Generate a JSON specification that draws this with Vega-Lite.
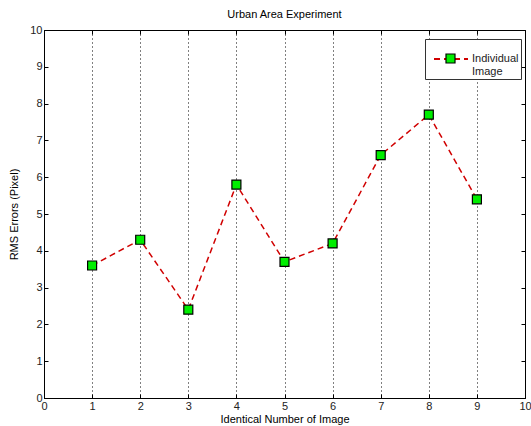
{
  "$schema": "https://vega.github.io/schema/vega-lite/v6.json",
  "width": 481,
  "height": 368,
  "autosize": {"type": "none"},
  "padding": {"left": 44, "top": 30, "right": 6, "bottom": 28},
  "background": "white",
  "title": {"text": "Urban Area Experiment", "font": "Liberation Sans", "fontSize": 11, "fontWeight": "normal", "color": "#000", "offset": 4},
  "config": {
    "view": {"stroke": "black", "strokeWidth": 1},
    "axis": {"labelFont": "Liberation Sans", "titleFont": "Liberation Sans", "labelFontSize": 11, "titleFontSize": 11, "titleFontWeight": "normal", "labelColor": "#222", "titleColor": "#000", "domainColor": "black", "tickColor": "black", "tickSize": -4}
  },
  "data": {"values": [
    {"x": 1, "y": 3.6, "series": "Individual Image", "marker": "m"},
    {"x": 2, "y": 4.3, "series": "Individual Image", "marker": "m"},
    {"x": 3, "y": 2.4, "series": "Individual Image", "marker": "m"},
    {"x": 4, "y": 5.8, "series": "Individual Image", "marker": "m"},
    {"x": 5, "y": 3.7, "series": "Individual Image", "marker": "m"},
    {"x": 6, "y": 4.2, "series": "Individual Image", "marker": "m"},
    {"x": 7, "y": 6.6, "series": "Individual Image", "marker": "m"},
    {"x": 8, "y": 7.7, "series": "Individual Image", "marker": "m"},
    {"x": 9, "y": 5.4, "series": "Individual Image", "marker": "m"}
  ]},
  "resolve": {"axis": {"x": "independent", "y": "independent"}, "legend": {"stroke": "independent", "fill": "independent"}},
  "layer": [
    {
      "mark": {"type": "line", "strokeDash": [6, 4], "strokeWidth": 1.5},
      "encoding": {
        "x": {"field": "x", "type": "quantitative", "scale": {"domain": [0, 10], "nice": false}, "axis": {"title": "Identical Number of Image", "values": [0,1,2,3,4,5,6,7,8,9,10], "grid": true, "gridColor": "black", "gridDash": [1, 3], "gridOpacity": 1, "labelPadding": 6, "titleY": 15, "titleBaseline": "top", "labelFlush": false}},
        "y": {"field": "y", "type": "quantitative", "scale": {"domain": [0, 10], "nice": false}, "axis": {"title": "RMS Errors (Pixel)", "values": [0,1,2,3,4,5,6,7,8,9,10], "grid": false, "labelPadding": 6, "titleX": -30, "titleBaseline": "middle", "labelFlush": false}},
        "stroke": {"field": "series", "type": "nominal", "scale": {"range": ["#d00000"]}, "legend": {"orient": "none", "legendX": 381, "legendY": 9, "title": null, "strokeColor": "#333", "fillColor": "white", "padding": 2, "symbolOffset": 6, "symbolType": "stroke", "symbolSize": 1156, "symbolStrokeWidth": 2, "symbolDash": [6, 4], "labelExpr": "['Individual','Image']", "labelFont": "Liberation Sans", "labelFontSize": 11, "labelColor": "#222", "labelOffset": 3, "zindex": 1}}
      }
    },
    {
      "mark": {"type": "square", "size": 81, "stroke": "black", "strokeWidth": 1.2, "opacity": 1, "fillOpacity": 1},
      "encoding": {
        "x": {"field": "x", "type": "quantitative", "scale": {"domain": [0, 10], "nice": false}, "axis": {"orient": "top", "title": null, "labels": false, "values": [0,1,2,3,4,5,6,7,8,9,10], "grid": false, "domain": false}},
        "y": {"field": "y", "type": "quantitative", "scale": {"domain": [0, 10], "nice": false}, "axis": {"orient": "right", "title": null, "labels": false, "values": [0,1,2,3,4,5,6,7,8,9,10], "grid": false, "domain": false}},
        "fill": {"field": "marker", "type": "nominal", "scale": {"range": ["#00ee00"]}, "legend": {"orient": "none", "legendX": 401, "legendY": 23, "title": null, "padding": 0, "symbolType": "square", "symbolSize": 81, "symbolStrokeColor": "black", "symbolStrokeWidth": 1.2, "symbolOpacity": 1, "labelExpr": "''", "zindex": 2}}
      }
    }
  ]
}
